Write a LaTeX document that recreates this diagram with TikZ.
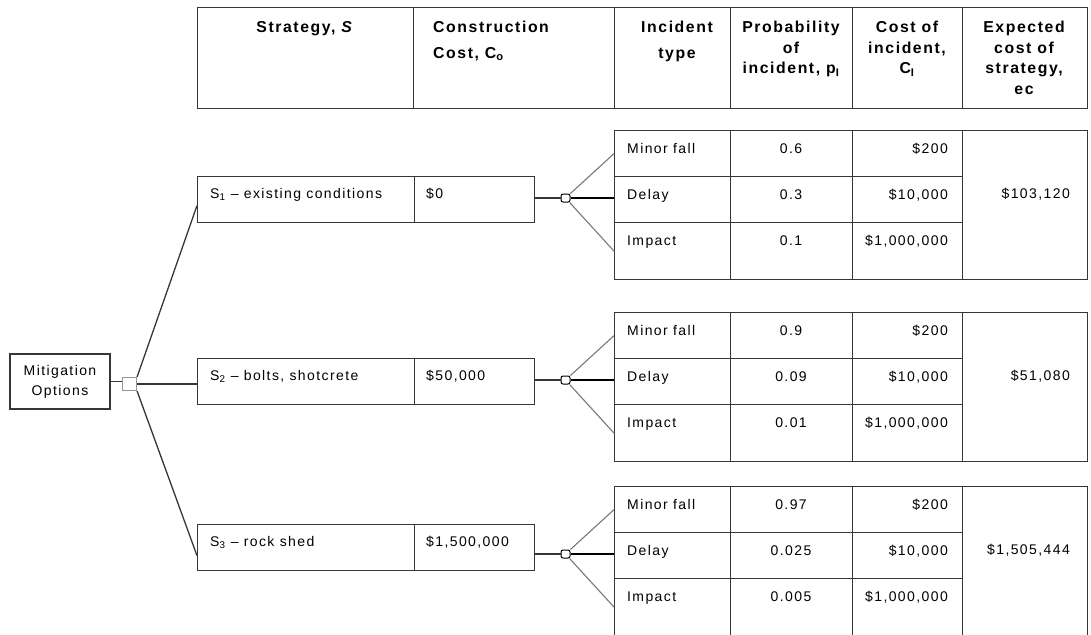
\documentclass[tikz,border=0pt]{standalone}
\usepackage{fontspec}
\setmainfont{Liberation Sans}
\newfontfamily\tablefont{Liberation Sans}[LetterSpace=10]
\usetikzlibrary{positioning}
\definecolor{linegray}{RGB}{55,55,55}
\definecolor{branchgray}{RGB}{120,120,120}
\definecolor{nodegray}{RGB}{150,150,150}

\tikzset{
  cellbox/.style={draw=linegray, line width=1.2pt, inner sep=0pt, anchor=north west},
  headtext/.style={font=\tablefont\bfseries\fontsize{15.8}{20.5}\selectfont, align=center, anchor=north, inner sep=0pt},
  celltext/.style={font=\tablefont\fontsize{14}{20}\selectfont, inner sep=0pt},
  decision/.style={draw=nodegray, line width=1.2pt, fill=white, minimum width=14pt, minimum height=13pt, inner sep=0pt},
  chance/.style={draw=black, line width=1pt, rounded corners=2pt, fill=white, minimum width=9pt, minimum height=8pt, inner sep=0pt},
  branch/.style={draw=linegray, line width=1.3pt},
  outcome/.style={draw=branchgray, line width=1.1pt},
}

\begin{document}
\begin{tikzpicture}[x=1pt, y=-1pt]
\useasboundingbox (0,0) rectangle (1091,634);

% Header row
\foreach \name/\xa/\xb in {hs/197/413, hc/413/614, hi/614/730, hp/730/852, hw/852/962, he/962/1087}
  \node[cellbox, minimum width=\xb-\xa, minimum height=101] (\name) at (\xa,7) {};

\node[headtext] (ths) at (305,21) {Strategy, \textit{S}};
\node[headtext, align=left, anchor=north west] (thc) at (433,21) {Construction\\[5.5pt]Cost, C\textsubscript{o}};
\node[headtext] (thi) at (677,21) {Incident\\[5.5pt]type};
\node[headtext] (thp) at (791,21) {Probability\\of\\incident, p\textsubscript{I}};
\node[headtext] (thw) at (907,21) {Cost of\\incident,\\C\textsubscript{I}};
\node[headtext] (the) at (1024,21) {Expected\\cost of\\strategy,\\ec};

% Decision node
\node[cellbox, celltext, anchor=center, minimum width=100, minimum height=55, align=center] (mit) at (60,381.5) {Mitigation\\Options};
\node[decision] (dec) at (129.5,384) {};
\draw[branch] (mit.east) -- (mit.east -| dec.west);

% Strategies
\foreach \i/\ty/\what/\cost in {1/176/existing conditions/\$0, 2/358/{bolts, shotcrete}/{\$50,000}, 3/524/rock shed/{\$1,500,000}} {
  \node[cellbox, minimum width=217, minimum height=46] (s\i) at (197,\ty) {};
  \node[cellbox, minimum width=120, minimum height=46] (c\i) at (414,\ty) {};
  \node[celltext, anchor=base west] (st\i) at (210,\ty+22) {S\textsubscript{\i} \textendash\ \what};
  \node[celltext, anchor=base west] (ct\i) at (426,\ty+22) {\cost};
}

\draw[branch] (dec.north east) -- ([yshift=-6pt]s1.west);
\draw[branch] (dec.east) -- (dec.east -| s2.west);
\draw[branch] (dec.south east) -- ([yshift=-8pt]s3.west);

% Incident tables
\foreach \t/\ty/\pa/\pb/\pc/\ec in {1/130/0.6/0.3/0.1/{\$103,120}, 2/312/0.9/0.09/0.01/{\$51,080}, 3/486/0.97/0.025/0.005/{\$1,505,444}} {
  \foreach \kind/\p/\cost [count=\k from 0] in {Minor fall/\pa/\$200, Delay/\pb/{\$10,000}, Impact/\pc/{\$1,000,000}} {
    \pgfmathsetmacro\rowtop{\ty+46*\k}
    \pgfmathsetmacro\rowh{\k==2 ? 57 : 46}
    \node[cellbox, minimum width=116, minimum height=\rowh] (ty\t-\k) at (614,\rowtop) {};
    \node[cellbox, minimum width=122, minimum height=\rowh] (pr\t-\k) at (730,\rowtop) {};
    \node[cellbox, minimum width=110, minimum height=\rowh] (co\t-\k) at (852,\rowtop) {};
    \node[celltext, anchor=base west] (tyt\t-\k) at (627,\rowtop+23) {\kind};
    \node[celltext, anchor=base] (prt\t-\k) at (791,\rowtop+23) {\p};
    \node[celltext, anchor=base east] (cot\t-\k) at (948,\rowtop+23) {\cost};
  }
  \node[cellbox, minimum width=125, minimum height=149] (ec\t) at (962,\ty) {};
  \node[celltext, anchor=base east] (ect\t) at (1070,\ty+68) {\ec};

  % chance node and its branches
  \node[chance] (ch\t) at (565.5,\ty+68) {};
  \draw[branch] (c\t.east |- ch\t) -- (ch\t);
  \draw[outcome] (ch\t) -- (ty\t-0.west);
  \draw[draw=black, line width=1.1pt] (ch\t) -- (ch\t -| ty\t-1.west);
  \draw[outcome] (ch\t) -- (ty\t-2.west);
}
\end{tikzpicture}
\end{document}
